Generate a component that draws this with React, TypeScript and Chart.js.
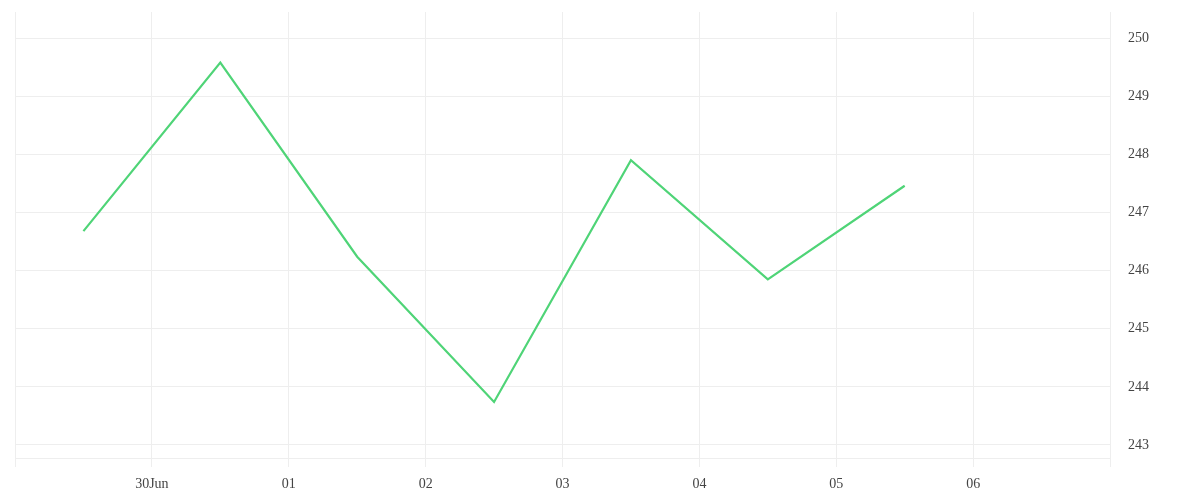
import React, { useEffect, useRef } from "react";
import { Chart, registerables } from "chart.js";

Chart.register(...registerables);

// Days since 29 Jun 00:00 (points sit at noon of each day)
const dayOffsets = [0.5, 1.5, 2.5, 3.5, 4.5, 5.5, 6.5];
const values = [246.68, 249.58, 246.24, 243.74, 247.9, 245.85, 247.46];
const xTickLabels = ["", "30Jun", "01", "02", "03", "04", "05", "06", ""];
const yMin = 242.776;
const yMax = 250.45;

export default function App() {
  const ref = useRef<HTMLCanvasElement | null>(null);
  useEffect(() => {
    if (!ref.current) return;
    const gridColor = "#eeeeee";
    const font = { family: "'Liberation Serif', serif", size: 14 };
    const chart = new Chart(ref.current, {
      type: "line",
      data: {
        datasets: [
          {
            data: dayOffsets.map((x, i) => ({ x, y: values[i] })),
            borderColor: "#4fd477",
            borderWidth: 2.2,
            pointRadius: 0,
            tension: 0,
            fill: false,
          },
        ],
      },
      options: {
        animation: false,
        responsive: false,
        maintainAspectRatio: false,
        layout: { autoPadding: false, padding: { left: 7, top: 4, right: 0, bottom: 0 } },
        plugins: { legend: { display: false }, tooltip: { enabled: false } },
        scales: {
          x: {
            type: "linear",
            min: 0,
            max: 8,
            ticks: {
              stepSize: 1,
              autoSkip: false,
              maxRotation: 0,
              color: "#444",
              font,
              padding: 9,
              callback: (v: any) => xTickLabels[Math.round(Number(v))] ?? "",
            },
            grid: { color: gridColor, drawTicks: true, tickLength: 9 },
            border: { color: gridColor },
            afterFit: (s: any) => {
              s.height = 34;
              s.paddingLeft = 0;
              s.paddingRight = 0;
            },
          },
          y: {
            position: "right",
            min: yMin,
            max: yMax,
            ticks: {
              stepSize: 1,
              includeBounds: false,
              color: "#444",
              font,
              padding: 18,
            },
            grid: { color: gridColor, drawTicks: false },
            border: { color: gridColor },
            afterFit: (s: any) => {
              s.width = 82;
              s.paddingTop = 0;
              s.paddingBottom = 0;
            },
          },
        },
      },
    } as any);
    return () => chart.destroy();
  }, []);
  return <canvas ref={ref} width={1184} height={484} style={{ display: "block" }} />;
}
